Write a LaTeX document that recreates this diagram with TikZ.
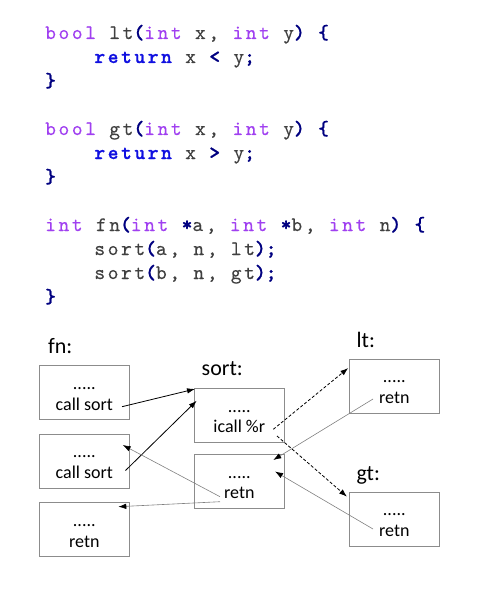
\documentclass[tikz,border=0pt]{standalone}
\usepackage{fontspec}
\setmainfont{Carlito}
\newfontfamily\codefont{lmmono10-regular}[Extension=.otf, BoldFont=lmmonolt10-bold, LetterSpace=12.6, UprightFeatures={FakeBold=0.3}, BoldFeatures={FakeBold=0.9}]
\usetikzlibrary{arrows.meta,calc}
\definecolor{kwp}{HTML}{A040F0}
\definecolor{kwb}{HTML}{1010E0}
\definecolor{nav}{HTML}{000080}
\definecolor{idg}{HTML}{404040}
\definecolor{boxg}{HTML}{8C8C8C}
\definecolor{retg}{HTML}{808080}
\newcommand\Kw[1]{\textcolor{kwp}{#1}}
\newcommand\Rt[1]{\textcolor{kwb}{\bfseries #1}}
\newcommand\Pn[1]{\textcolor{nav}{\bfseries #1}}
\tikzset{
  codeline/.style={anchor=base west, inner sep=0pt, text=idg, font=\codefont\fontsize{20.5}{24}\selectfont},
  lbl/.style={anchor=base west, inner sep=0pt, font=\fontsize{22}{26}\selectfont},
  frame/.style={draw=boxg, line width=0.7pt, minimum width=90pt, minimum height=54pt, inner sep=0pt},
  boxtxt/.style={anchor=base, inner sep=0pt, font=\fontsize{18}{20}\selectfont},
  callarrow/.style={draw=black, line width=0.8pt, -{Latex[length=8pt,width=5.5pt]}},
  dasharrow/.style={callarrow, dash pattern=on 3pt off 2pt},
  retarrow/.style={draw=retg, line width=0.6pt, -{Latex[length=8pt,width=5.5pt,color=black]}}
}
\begin{document}
\begin{tikzpicture}[x=1pt,y=-1pt]
\useasboundingbox (0,0) rectangle (479,599);
% code
\node[codeline] (c1) at (45,39) {\Kw{bool} lt\Pn{(}\Kw{int} x, \Kw{int} y\Pn{)} \Pn{\{}};
\node[codeline] (c2) at (94.2,63) {\Rt{return} x \Pn{<} y\Pn{;}};
\node[codeline] (c3) at (45,87) {\Pn{\}}};
\node[codeline] (c4) at (45,135) {\Kw{bool} gt\Pn{(}\Kw{int} x, \Kw{int} y\Pn{)} \Pn{\{}};
\node[codeline] (c5) at (94.2,159) {\Rt{return} x \Pn{>} y\Pn{;}};
\node[codeline] (c6) at (45,183) {\Pn{\}}};
\node[codeline] (c7) at (45,231) {\Kw{int} fn\Pn{(}\Kw{int} \Pn{*}a, \Kw{int} \Pn{*}b, \Kw{int} n\Pn{)} \Pn{\{}};
\node[codeline] (c8) at (94.2,255) {sort\Pn{(}a, n, lt\Pn{)}\Pn{;}};
\node[codeline] (c9) at (94.2,279) {sort\Pn{(}b, n, gt\Pn{)}\Pn{;}};
\node[codeline] (c10) at (45,303) {\Pn{\}}};
% labels
\node[lbl] (lfn) at (48,353) {fn:};
\node[lbl] (lsort) at (201.5,375) {sort:};
\node[lbl] (llt) at (356.5,347) {lt:};
\node[lbl] (lgt) at (356.5,480) {gt:};
% boxes
\node[frame] (fn1) at (84.3,392.7) {};
\node[frame] (fn2) at (84.3,461) {};
\node[frame] (fn3) at (84.3,529.7) {};
\node[frame] (sort1) at (239.3,415.5) {};
\node[frame] (sort2) at (239.3,481.5) {};
\node[frame] (lt) at (394.3,386.3) {};
\node[frame] (gt) at (394.3,518.9) {};
% box texts
\foreach \b/\t in {fn1/call sort, fn2/call sort, fn3/retn, sort1/icall \%r, sort2/retn, lt/retn, gt/retn}{
  \node[boxtxt] (\b d) at ($(\b.north)+(0,24)$) {.....};
  \node[boxtxt] (\b t) at ($(\b.north)+(0,44.8)$) {\t};
}
% connector end points
\coordinate (a1s) at (122,406.7);
\coordinate (a1e) at (195,389);
\coordinate (a2s) at (125.5,470.5);
\coordinate (a2e) at (196.7,400.7);
\coordinate (d1s) at (273.3,429.3);
\coordinate (d1e) at (348.3,368);
\coordinate (d2s) at (277,436);
\coordinate (d2e) at (347,496.7);
\coordinate (r1s) at (373,399);
\coordinate (r1e) at (273.3,460);
\coordinate (r2s) at (373,529);
\coordinate (r2e) at (275,471.5);
\coordinate (r3s) at (220,496.7);
\coordinate (r3e) at (122.7,445);
\coordinate (r4s) at (220,501.7);
\coordinate (r4e) at (118.3,506.7);
% connectors
\draw[callarrow] (a1s) -- (a1e);
\draw[callarrow] (a2s) -- (a2e);
\draw[dasharrow] (d1s) -- (d1e);
\draw[dasharrow] (d2s) -- (d2e);
\draw[retarrow] (r1s) -- (r1e);
\draw[retarrow] (r2s) -- (r2e);
\draw[retarrow] (r3s) -- (r3e);
\draw[retarrow] (r4s) -- (r4e);
\end{tikzpicture}
\end{document}
